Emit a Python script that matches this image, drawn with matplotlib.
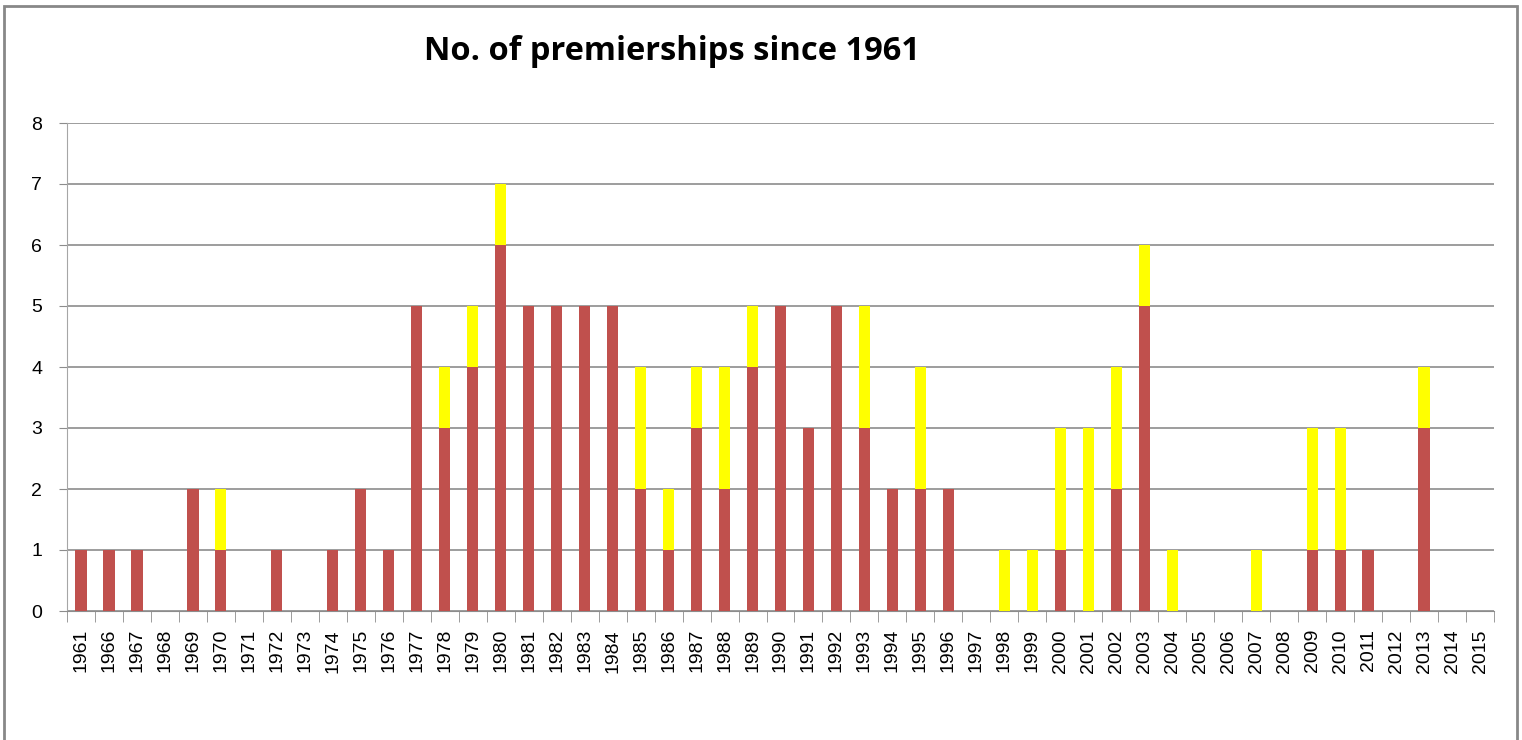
import numpy as np
import matplotlib.pyplot as plt
from matplotlib.patches import Rectangle

years = ['1961'] + [str(y) for y in range(1966, 2016)]

red_vals = [1, 1, 1, 0, 2, 1, 0, 1, 0, 1, 2, 1, 5, 3, 4, 6, 5, 5, 5, 5,
            2, 1, 3, 2, 4, 5, 3, 5, 3, 2, 2, 2, 0, 0, 0, 1, 0, 2, 5, 0,
            0, 0, 0, 0, 1, 1, 1, 0, 3, 0, 0]
yellow_vals = [0, 0, 0, 0, 0, 1, 0, 0, 0, 0, 0, 0, 0, 1, 1, 1, 0, 0, 0, 0,
               2, 1, 1, 2, 1, 0, 0, 0, 2, 0, 2, 0, 0, 1, 1, 2, 3, 2, 1, 1,
               0, 0, 1, 0, 2, 2, 0, 0, 1, 0, 0]

plt.rcParams['font.family'] = ['Liberation Sans', 'DejaVu Sans']

fig = plt.figure(figsize=(15.22, 7.40), dpi=100)
ax = fig.add_axes([67/1522, 1 - 611/740, (1494 - 67)/1522, (611 - 123)/740])

x = np.arange(len(years))
ax.bar(x, red_vals, width=0.4, color='#C0504D', zorder=3)
ax.bar(x, yellow_vals, width=0.4, bottom=red_vals, color='#FFFF00', zorder=3)

ax.set_xlim(-0.5, len(years) - 0.5)
ax.set_ylim(0, 8)
ax.set_yticks(range(0, 9))
ax.yaxis.grid(True, color='#8c8c8c', lw=1.2, zorder=0)

ax.set_xticks(x)
ax.set_xticklabels(years, rotation=90, fontsize=14)
ax.set_xticks(np.arange(-0.5, len(years)), minor=True)
ax.tick_params(axis='x', which='major', length=0, pad=13)
ax.tick_params(axis='x', which='minor', length=8, color='#8c8c8c')
ax.tick_params(axis='y', length=6, color='#8c8c8c', labelsize=14, pad=12)

for s in ['top', 'right']:
    ax.spines[s].set_visible(False)
ax.spines['left'].set_color('#a6a6a6')
ax.spines['bottom'].set_color('#8c8c8c')

fig.text(672/1522, 1 - 51/740, 'No. of premierships since 1961', ha='center', va='center',
         fontsize=23.5, fontweight='bold', family=['Open Sans', 'DejaVu Sans'])

# outer chart border, open at the bottom
fig.add_artist(Rectangle((4/1522, -0.05), (1517 - 4)/1522, 1.05 - 6/740, transform=fig.transFigure,
                         fill=False, edgecolor='#888888', lw=2))

fig.savefig('out.png', dpi=100)
